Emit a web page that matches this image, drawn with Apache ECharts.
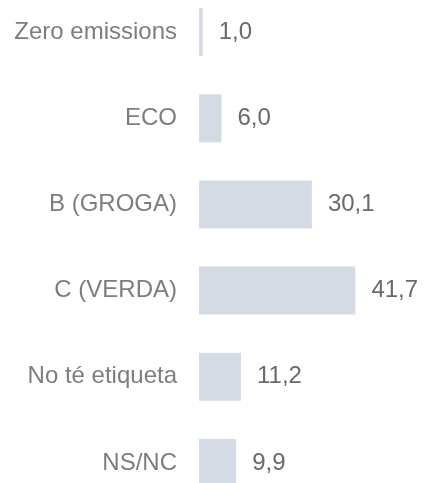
<!DOCTYPE html>
<html lang="ca">
  <head>
    <meta charset="UTF-8" />
    <title>Etiqueta ambiental</title>
    <script src="https://cdn.jsdelivr.net/npm/echarts@6.0.0/dist/echarts.min.js"></script>
    <style>
      body { margin: 0; background: #fff; }
    </style>
  </head>

  <body>
    <div id="main" style="width: 424px; height: 483px"></div>
    <script type="text/javascript">
      const categories = ["Zero emissions", "ECO", "B (GROGA)", "C (VERDA)", "No té etiqueta", "NS/NC"];
      const values = [1.0, 6.0, 30.1, 41.7, 11.2, 9.9];

      const font = "'Liberation Sans', Arial, sans-serif";
      // comma as decimal separator
      const fmt = (v) => v.toFixed(1).replace(".", ",");

      let myChart = echarts.init(document.getElementById("main"));
      let options = {
        animation: false,
        grid: {
          left: 199,
          width: 225,
          top: -11,
          height: 517,
          outerBoundsMode: "none",
        },
        xAxis: {
          type: "value",
          min: 0,
          max: 60,
          show: false,
        },
        yAxis: {
          type: "category",
          data: categories,
          inverse: true,
          axisLine: { show: false },
          axisTick: { show: false },
          splitLine: { show: false },
          axisLabel: {
            margin: 22,
            color: "#7d7d7d",
            fontFamily: font,
            fontSize: 24,
          },
        },
        series: [
          {
            type: "bar",
            data: values,
            barWidth: 48,
            itemStyle: { color: "#d4dbe5" },
            label: {
              show: true,
              position: "right",
              distance: 16,
              color: "#6a6a6a",
              fontFamily: font,
              fontSize: 24,
              formatter: (p) => fmt(p.value),
            },
          },
        ],
      };
      myChart.setOption(options);
    </script>
  </body>
</html>
